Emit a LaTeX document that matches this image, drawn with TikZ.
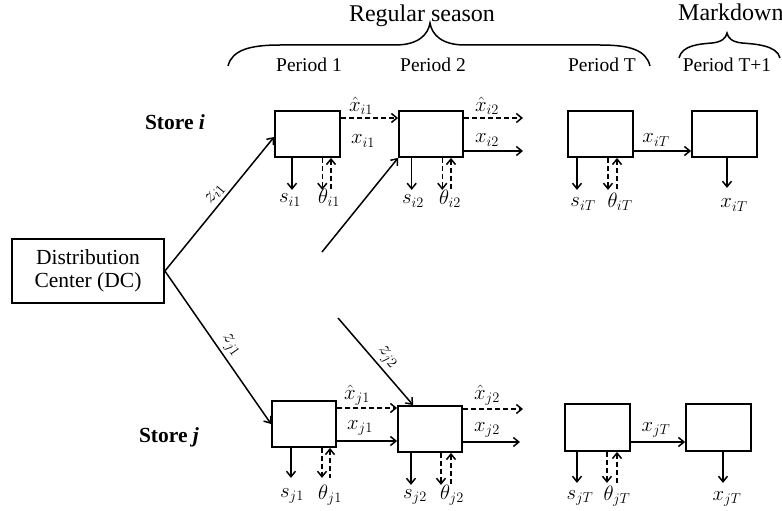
\documentclass[tikz,border=0pt]{standalone}
\usepackage{fontspec}
\setmainfont{Liberation Serif}
\DeclareMathSizes{21}{21}{15.5}{12}
\usetikzlibrary{arrows.meta,calc}
\begin{document}
\begin{tikzpicture}[x=1pt,y=-1pt,
  box/.style={draw, line width=1.8pt, inner sep=0pt},
  cell/.style={box, minimum width=65pt, minimum height=46pt},
  arrowline/.style={line width=1.5pt, -{Straight Barb[length=5.5pt,width=9pt]}},
  dasharrow/.style={arrowline, dash pattern=on 5pt off 3pt},
  backarrow/.style={line width=1.5pt, dash pattern=on 5pt off 3pt, {Straight Barb[length=5.5pt,width=9pt]}-},
  lab/.style={font=\fontsize{21}{24}\selectfont, inner sep=0pt},
  zlab/.style={font=\fontsize{21}{24}\selectfont, inner sep=3pt},
  per/.style={font=\fontsize{19.5}{22}\selectfont, anchor=base, inner sep=0pt},
  ttl/.style={font=\fontsize{24}{28}\selectfont, anchor=base, inner sep=0pt},
  storelab/.style={font=\fontsize{21.5}{24}\selectfont\bfseries, anchor=base, inner sep=0pt},
  braceline/.style={line width=1.5pt}
]
\useasboundingbox[fill=white] (0,0) rectangle (782,511);

% titles and braces
\node[ttl] (reg) at (422,22) {Regular season};
\node[ttl, anchor=base west] (mkd) at (678,21) {Markdown};
\draw[braceline] (228,66) .. controls (232,50) and (250,45) .. (280,45) -- (395,45)
  .. controls (418,45) and (428,35) .. (430,23)
  .. controls (432,35) and (442,45) .. (465,45) -- (600,45)
  .. controls (630,45) and (646,50) .. (650,66);
\draw[braceline] (679,58) .. controls (682,45) and (700,44) .. (712,43)
  .. controls (722,42) and (726,38) .. (727,33)
  .. controls (728,38) and (732,42) .. (742,43)
  .. controls (754,44) and (777,45) .. (780,58);

\node[per] (p1) at (309,72) {Period 1};
\node[per] (p2) at (433,72) {Period 2};
\node[per] (pT) at (602,72) {Period T};
\node[per] (pT1) at (727,72) {Period T+1};

% store labels
\node[storelab] (si) at (175,129) {Store \textit{i}};
\node[storelab] (sj) at (169,442) {Store \textit{j}};

% DC
\node[box, minimum width=152pt, minimum height=64pt, align=center,
      font=\fontsize{21.5}{23}\selectfont] (dc) at (88,271) {Distribution\\Center (DC)};

% boxes store i
\node[cell, minimum width=65pt] (i1) at (307.5,134) {};
\node[cell, minimum width=64pt] (i2) at (431,134) {};
\node[cell] (iT) at (600.5,134) {};
\node[cell] (iT1) at (724.5,134) {};
% boxes store j
\node[cell, minimum width=64pt] (j1) at (304,424) {};
\node[cell, minimum width=64pt] (j2) at (430,429) {};
\node[cell, minimum height=47pt] (jT) at (597.5,427.5) {};
\node[cell, minimum height=47pt] (jT1) at (718.5,427.5) {};

% DC shipments
\draw[arrowline] (dc.east) -- node[zlab, pos=0.53, above, sloped] (lzi1) {$z_{i1}$} ([yshift=-3pt]i1.west);
\draw[arrowline] (dc.east) -- node[zlab, pos=0.53, above, sloped] (lzj1) {$z_{j1}$} (j1.west);
\coordinate (zi2s) at (322,252);
\draw[arrowline] (zi2s) -- (i2.south west);
\coordinate (zj2s) at (338,318);
\draw[arrowline] (zj2s) -- node[zlab, pos=0.54, above, sloped] (lzj2) {$z_{j2}$} ($(j2.north west)+(16,0)$);

% store i horizontal
\draw[dasharrow] ([yshift=16pt]i1.east) -- ([yshift=16pt]i2.west);
\node[lab] (lxhi1) at (361,106) {$\hat{x}_{i1}$};
\node[lab] (lxi1) at (363,141) {$x_{i1}$};
\coordinate (ei2h) at (523,118);
\coordinate (ei2) at (523,151);
\draw[dasharrow] ([yshift=16pt]i2.east) -- (ei2h);
\draw[arrowline] ([yshift=-17pt]i2.east) -- (ei2);
\node[lab] (lxhi2) at (487,106) {$\hat{x}_{i2}$};
\node[lab] (lxi2) at (487,140) {$x_{i2}$};
\draw[arrowline] ([yshift=-17pt]iT.east) -- ([yshift=-17pt]iT1.west);
\node[lab] (lxiT) at (656,140) {$x_{iT}$};

% store j horizontal
\draw[dasharrow] ([yshift=16pt]j1.east) -- ([yshift=21pt]j2.west);
\draw[arrowline] ([yshift=-17pt]j1.east) -- ([yshift=-12pt]j2.west);
\node[lab] (lxhj1) at (357,395) {$\hat{x}_{j1}$};
\node[lab] (lxj1) at (360,428) {$x_{j1}$};
\coordinate (ej2h) at (523,409);
\coordinate (ej2) at (520,442);
\draw[dasharrow] ([yshift=20pt]j2.east) -- (ej2h);
\draw[arrowline] ([yshift=-13pt]j2.east) -- (ej2);
\node[lab] (lxhj2) at (487,395) {$\hat{x}_{j2}$};
\node[lab] (lxj2) at (487,430) {$x_{j2}$};
\draw[arrowline] ([yshift=-14.5pt]jT.east) -- ([yshift=-14.5pt]jT1.west);
\node[lab] (lxjT) at (656,430) {$x_{jT}$};

% store i vertical
\draw[arrowline] ([xshift=-15.5pt]i1.south) -- ++(0,32);
\draw[dasharrow] ([xshift=14.8pt]i1.south) -- ++(0,32);
\draw[backarrow] ([xshift=23.5pt]i1.south) -- ++(0,32);
\node[lab] (lsi1) at (290,200) {$s_{i1}$};
\node[lab] (lti1) at (329,198) {$\theta_{i1}$};

\draw[arrowline] ([xshift=-19.3pt]i2.south) -- ++(0,32);
\draw[dasharrow] ([xshift=11.3pt]i2.south) -- ++(0,32);
\draw[backarrow] ([xshift=20pt]i2.south) -- ++(0,32);
\node[lab] (lsi2) at (413,201) {$s_{i2}$};
\node[lab] (lti2) at (450,199) {$\theta_{i2}$};

\draw[arrowline] ([xshift=-23.5pt]iT.south) -- ++(0,32);
\draw[dasharrow] ([xshift=7.5pt]iT.south) -- ++(0,32);
\draw[backarrow] ([xshift=16.5pt]iT.south) -- ++(0,32);
\node[lab] (lsiT) at (583,204) {$s_{iT}$};
\node[lab] (ltiT) at (620,202) {$\theta_{iT}$};

\draw[arrowline] ([xshift=2.5pt]iT1.south) -- ++(0,30);
\node[lab] (lxiTb) at (734,205) {$x_{iT}$};

% store j vertical
\draw[arrowline] ([xshift=-13pt]j1.south) -- ++(0,30);
\draw[dasharrow] ([xshift=18pt]j1.south) -- ++(0,30);
\draw[backarrow] ([xshift=26pt]j1.south) -- ++(0,30);
\node[lab] (lsj1) at (292,496) {$s_{j1}$};
\node[lab] (ltj1) at (330,495) {$\theta_{j1}$};

\draw[arrowline] ([xshift=-19pt]j2.south) -- ++(0,32);
\draw[dasharrow] ([xshift=11pt]j2.south) -- ++(0,32);
\draw[backarrow] ([xshift=21pt]j2.south) -- ++(0,32);
\node[lab] (lsj2) at (415,497) {$s_{j2}$};
\node[lab] (ltj2) at (452,495) {$\theta_{j2}$};

\draw[arrowline] ([xshift=-20.5pt]jT.south) -- ++(0,31);
\draw[dasharrow] ([xshift=9.5pt]jT.south) -- ++(0,31);
\draw[backarrow] ([xshift=19.5pt]jT.south) -- ++(0,31);
\node[lab] (lsjT) at (580,498) {$s_{jT}$};
\node[lab] (ltjT) at (617,496) {$\theta_{jT}$};

\draw[arrowline] ([xshift=4.5pt]jT1.south) -- ++(0,31);
\node[lab] (lxjTb) at (727,499) {$x_{jT}$};
\end{tikzpicture}
\end{document}
